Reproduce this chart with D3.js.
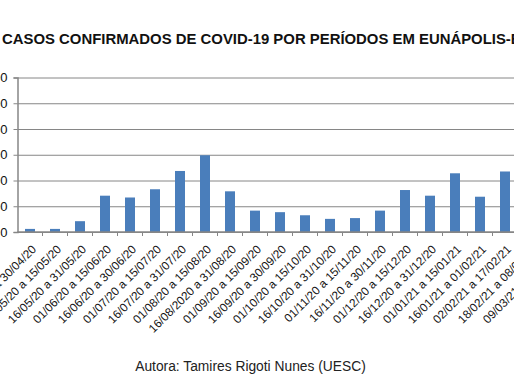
<!DOCTYPE html>
<html>
<head>
<meta charset="utf-8">
<script src="https://cdn.jsdelivr.net/npm/d3@7"></script>
<style>
  body { margin: 0; background: #fff; overflow: hidden; }
  .grid line { stroke: #868686; }
  .grid path { display: none; }
</style>
</head>
<body>
<div id="chart"></div>
<script>
// data (last two periods fall outside the crop)
var periods = [
    "16/04/20 a 30/04/20", "01/05/20 a 15/05/20", "16/05/20 a 31/05/20",
    "01/06/20 a 15/06/20", "16/06/20 a 30/06/20", "01/07/20 a 15/07/20",
    "16/07/20 a 31/07/20", "01/08/20 a 15/08/20", "16/08/2020 a 31/08/20",
    "01/09/20 a 15/09/20", "16/09/20 a 30/09/20", "01/10/20 a 15/10/20",
    "16/10/20 a 31/10/20", "01/11/20 a 15/11/20", "16/11/20 a 30/11/20",
    "01/12/20 a 15/12/20", "16/12/20 a 31/12/20", "01/01/21 a 15/01/21",
    "16/01/21 a 01/02/21", "02/02/21 a 17/02/21", "18/02/21 a 08/03/21",
    "09/03/21 a 23/03/21"
];
var cases = [12, 12, 42, 141, 134, 166, 237, 298, 158, 83, 77, 65,
             51, 54, 83, 163, 141, 228, 137, 235, 420, 520];
var yTicks = [0, 100, 200, 300, 400, 500, 600];

var margin = {top: 77.5, left: 17.5},
    bandW = 25,
    width = bandW * periods.length,
    height = 232 - margin.top;

var svg = d3.select("#chart").append("svg")
    .attr("width", 514)
    .attr("height", 386);

// title
svg.append("text")
    .attr("x", 2)
    .attr("y", 44)
    .attr("font-family", "Liberation Sans, Arial, sans-serif")
    .attr("font-weight", "bold")
    .attr("font-size", "14.9px")
    .attr("fill", "#111")
    .text("CASOS CONFIRMADOS DE COVID-19 POR PERÍODOS EM EUNÁPOLIS-BA");

var g = svg.append("g")
    .attr("transform", "translate(" + margin.left + "," + margin.top + ")");

var xScale = d3.scaleBand()
    .domain(periods)
    .range([0, width])
    .paddingInner(0.6)
    .paddingOuter(0.3);

var yScale = d3.scaleLinear()
    .domain([0, 600])
    .range([height, 0]);

// gridlines
g.append("g")
    .attr("class", "grid")
    .call(d3.axisLeft(yScale).tickValues(yTicks).tickSize(-width).tickFormat(""));

// y axis
var yAxis = g.append("g")
    .call(d3.axisLeft(yScale).tickValues(yTicks).tickSize(4).tickPadding(6));
yAxis.select(".domain").attr("stroke", "#868686").attr("stroke-width", 1.5);
yAxis.selectAll(".tick line").attr("stroke", "#868686");
yAxis.selectAll("text")
    .attr("font-family", "Liberation Sans, Arial, sans-serif")
    .attr("font-size", "13px")
    .attr("fill", "#111");

// bars
g.selectAll(".bar")
    .data(cases)
    .enter().append("rect")
    .attr("class", "bar")
    .attr("x", function(d, i) { return xScale(periods[i]); })
    .attr("y", function(d) { return yScale(d); })
    .attr("width", xScale.bandwidth())
    .attr("height", function(d) { return height - yScale(d); })
    .attr("fill", "#4a7ebb");

// x axis with ticks between categories
var xAxis = g.append("g")
    .attr("transform", "translate(0," + height + ")");
xAxis.append("line")
    .attr("x1", 0).attr("x2", width)
    .attr("stroke", "#868686").attr("stroke-width", 1.5);
xAxis.selectAll(".xtick")
    .data(periods)
    .enter().append("line")
    .attr("x1", function(d) { return xScale(d) + xScale.bandwidth() / 2 + bandW / 2; })
    .attr("x2", function(d) { return xScale(d) + xScale.bandwidth() / 2 + bandW / 2; })
    .attr("y1", 0).attr("y2", 4)
    .attr("stroke", "#868686");
xAxis.selectAll(".xlabel")
    .data(periods)
    .enter().append("text")
    .attr("text-anchor", "end")
    .attr("font-family", "Liberation Sans, Arial, sans-serif")
    .attr("font-size", "11.8px")
    .attr("fill", "#111")
    .attr("transform", function(d) {
        return "translate(" + (xScale(d) + xScale.bandwidth() / 2 + 7) + ",18) rotate(-45)";
    })
    .text(function(d) { return d; });

// footer
svg.append("text")
    .attr("x", 250.5)
    .attr("y", 371)
    .attr("text-anchor", "middle")
    .attr("font-family", "Liberation Sans, Arial, sans-serif")
    .attr("font-size", "13.8px")
    .attr("fill", "#222")
    .text("Autora: Tamires Rigoti Nunes (UESC)");
</script>
</body>
</html>
